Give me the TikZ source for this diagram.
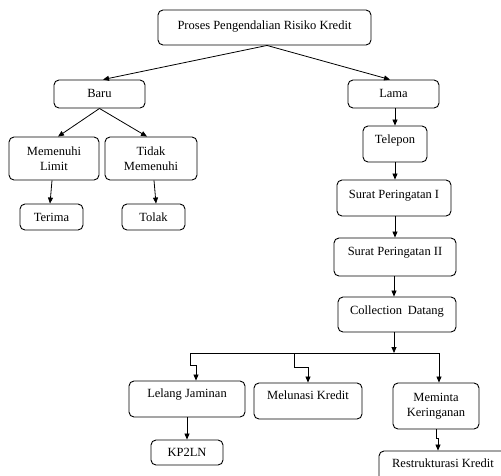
\documentclass[tikz,border=0pt]{standalone}
\usepackage{fontspec}
\setmainfont{Liberation Serif}
\usetikzlibrary{arrows.meta}
\begin{document}
\begin{tikzpicture}[x=1pt,y=-1pt,
  box/.style={draw, rounded corners=5pt, line width=0.9pt, inner sep=0pt,
              font=\fontsize{12.5}{15}\selectfont},
  one/.style={box, text height=9pt, text depth=#1},
  two/.style={box, align=center},
  conn/.style={line width=0.8pt, -{Triangle[length=6pt,width=5pt]}},
  plainline/.style={line width=0.8pt}]
\useasboundingbox (0,0) rectangle (501,475);
\clip (0,0) rectangle (501,475);

% nodes
\node[one=5.7pt, minimum width=213pt, minimum height=35pt] (top) at (264.5,27.5) {Proses Pengendalian Risiko Kredit};
\node[one=2.7pt, minimum width=91pt, minimum height=28pt] (baru) at (99.5,94) {Baru};
\node[one=2.7pt, minimum width=91pt, minimum height=28pt] (lama) at (393.5,94) {Lama};
\node[two, minimum width=90pt, minimum height=43pt] (memenuhi) at (54,158.5) {Memenuhi\\Limit};
\node[two, minimum width=92pt, minimum height=43pt] (tidak) at (151,158.5) {Tidak\\Memenuhi};
\node[one=0.7pt, minimum width=63pt, minimum height=26pt] (terima) at (51.5,217) {Terima};
\node[one=0.7pt, minimum width=63pt, minimum height=26pt] (tolak) at (153.5,217) {Tolak};
\node[one=10.7pt, minimum width=64pt, minimum height=36pt] (telepon) at (395,144) {Telepon};
\node[one=8.7pt, minimum width=114pt, minimum height=36pt] (sp1) at (394,198) {Surat Peringatan I};
\node[one=12.7pt, minimum width=122pt, minimum height=38pt] (sp2) at (395,257) {Surat Peringatan II};
\node[one=9.7pt, minimum width=118pt, minimum height=35pt] (coll) at (397,314.5) {Collection\hspace{0.2em} Datang};
\node[one=12.7pt, minimum width=116pt, minimum height=36pt] (lelang) at (187,399) {Lelang Jaminan};
\node[one=12.7pt, minimum width=108pt, minimum height=36pt] (melunasi) at (308,401) {Melunasi Kredit};
\node[two, minimum width=86pt, minimum height=46pt] (meminta) at (436,406) {Meminta\\Keringanan};
\node[one=1.7pt, minimum width=72pt, minimum height=25pt] (kp2ln) at (187,452.5) {KP2LN};
\node[one=6.7pt, minimum width=128pt, minimum height=30pt] (restr) at (443,466) {Restrukturasi Kredit};

% bus coordinates
\coordinate (bus) at (394,353);
\coordinate (busL) at (190,353);
\coordinate (busM) at (294,353);
\coordinate (busR) at (439,353);

% connectors
\draw[conn] ([xshift=2.5pt]top.south) -- ([xshift=3.5pt]baru.north);
\draw[conn] ([xshift=2.5pt]top.south) -- ([xshift=-3.5pt]lama.north);
\draw[conn] (baru.south) -- ([xshift=4pt]memenuhi.north);
\draw[conn] (baru.south) -- ([xshift=-4pt]tidak.north);
\draw[conn] ([xshift=-2pt]memenuhi.south) -- ([xshift=-1.5pt]terima.north);
\draw[conn] ([xshift=3pt]tidak.south) -- ([xshift=2.5pt]tolak.north);
\draw[conn] (lama.south -| telepon.north) -- (telepon.north);
\draw[conn] (telepon.south) -- (telepon.south |- sp1.north);
\draw[conn] (telepon.south |- sp1.south) -- (telepon.south |- sp2.north);
\draw[conn] (bus |- sp2.south) -- (bus |- coll.north);
\draw[conn] (bus |- coll.south) -- (bus);
\draw[plainline] (busL) -- (busR);
\draw[conn] (busL) -- ++(0,12) -| ([xshift=9pt]lelang.north);
\draw[conn] (busM) -- ++(0,14) -| (melunasi.north);
\draw[conn] (busR) -- ([xshift=3pt]meminta.north);
\draw[conn] (meminta.south) -- ++(0,9) -| ([xshift=-5pt]restr.north);
\draw[conn] (lelang.south) -- (kp2ln.north);
\end{tikzpicture}
\end{document}
